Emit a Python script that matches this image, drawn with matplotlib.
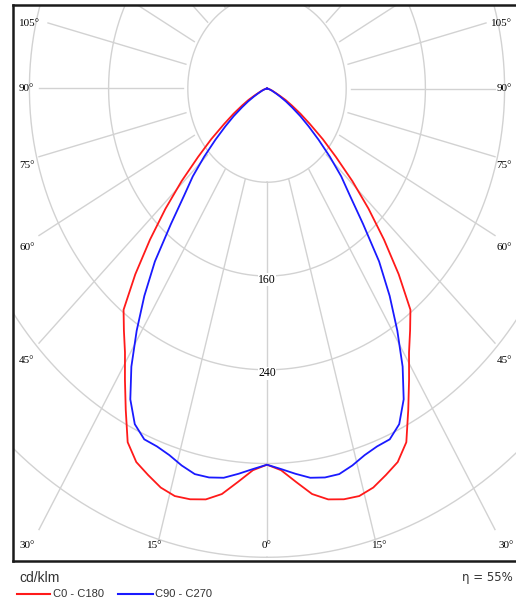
import numpy as np
import matplotlib.pyplot as plt

# ---------------- data (cd/klm) ----------------
angles = [0, 2.5, 5, 7.5, 10, 12.5, 15, 17.5, 20, 22.5, 25, 27.5, 30, 32.5, 35, 37.5,
          40, 42.5, 45, 47.5, 50, 52.5, 55, 57.5, 60, 62.5, 65, 70, 75, 80, 85, 90]
c0_c180 = [321, 326, 337, 349, 356, 359, 360, 357, 351, 345, 333, 309, 287, 267, 252, 238,
           207, 175, 145, 117, 91, 71, 53, 40, 29, 21, 13, 6, 3, 1, 0, 0]
c90_c270 = [321, 325, 330, 335, 337, 337, 333, 328, 325, 324, 316, 299, 274, 245, 216, 186,
            151, 124, 106, 86, 68, 53, 41, 30, 22, 15, 10, 5, 2, 1, 0, 0]
ring_values = [80, 160, 240, 320, 400, 480]
ring_labels = [160, 240]
spoke_step = 15
labelled_angles = [0, 15, 30, 45, 60, 75, 90, 105]
series_names = ["C0 - C180", "C90 - C270"]
series_colors = ["#ff1a1a", "#1a1aff"]
unit_label = "cd/klm"
eta_label = "η = 55%"

# ---------------- layout ----------------
W, H = 516, 603
fig = plt.figure(figsize=(W / 100, H / 100), dpi=100)
L, T, B, R = 13, 5, 561, 517
ax = fig.add_axes([L / W, 1 - B / H, (R - L) / W, (B - T) / H])
cx, cy = 267, 88.5          # pixel position of pole
sx, sy = 0.99, 1.172        # px per cd horizontally / vertically
ax.set_xlim((L - cx) / sx, (R - cx) / sx)
ax.set_ylim(-(B - cy) / sy, (cy - T) / sy)
ax.set_xticks([]); ax.set_yticks([])
for s in ["left", "top", "bottom"]:
    ax.spines[s].set_linewidth(1.8)
    ax.spines[s].set_color("#1a1a1a")
ax.spines["right"].set_visible(False)

grid_c = "#d2d2d2"
t = np.linspace(0, 2 * np.pi, 721)
for rv in ring_values:
    ax.plot(rv * np.sin(t), -rv * np.cos(t), color=grid_c, lw=1.0, zorder=1)

# spokes
f_sp = 1.06   # horizontal factor for spokes
lab_left, lab_right, lab_bottom = 39, 495, 540


def ray_end(s, c, xl, xr, yb):
    cands = []
    if abs(s) > 1e-9:
        xb = xr if s > 0 else xl
        cands.append((xb - cx) / (s * sx * f_sp))
    if c > 1e-9:
        cands.append((yb - cy) / (c * sy))
    cands = [v for v in cands if v > 0]
    return min(cands)


for a in range(0, 360, spoke_step):
    th = np.deg2rad(a)
    s, c = np.sin(th), np.cos(th)
    a_abs = min(a, 360 - a)
    rend = 2000
    if a_abs in labelled_angles:
        inset = 9 if a_abs > 90 else 0
        rend = ray_end(s, c, lab_left + inset, lab_right - inset, lab_bottom)
    rr = np.array([80, rend])
    ax.plot(rr * s * f_sp, -rr * c, color=grid_c, lw=1.0, zorder=1)

# ring labels
for rv in ring_labels:
    ax.text(0, -rv - 3, str(rv), ha="center", va="center", fontsize=8.5,
            family="Liberation Serif", zorder=3,
            bbox=dict(boxstyle="square,pad=0.05", fc="white", ec="none"))

# curves
th_full = np.deg2rad(np.concatenate([-np.array(angles[::-1]), np.array(angles)]))
for vals, col in zip([c0_c180, c90_c270], series_colors):
    r = np.concatenate([np.array(vals[::-1]), np.array(vals)])
    ax.plot(r * np.sin(th_full), -r * np.cos(th_full), color=col, lw=1.3, zorder=4)


# angle labels
def px_to_fig(x, y):
    return x / W, 1 - y / H


lab_fs = 8
for a in labelled_angles:
    th = np.deg2rad(a)
    s, c = np.sin(th), np.cos(th)
    if a >= 45:
        rr = (28 - cx) / (-s * sx * f_sp)
        ypx = cy + rr * c * sy + (0 if a == 90 else (7 if a > 90 else 5))
        fig.text(*px_to_fig(19, ypx), f"{a}°", ha="left", va="center",
                 fontsize=lab_fs, family="Liberation Serif")
        fig.text(*px_to_fig(512, ypx), f"{a}°", ha="right", va="center",
                 fontsize=lab_fs, family="Liberation Serif")
    else:
        rr = (546 - cy) / (c * sy)
        xoff = rr * s * sx * f_sp
        xs = [cx] if a == 0 else [cx - xoff - 3, cx + xoff + 3]
        for xp in xs:
            fig.text(*px_to_fig(xp, 546), f"{a}°", ha="center", va="center",
                     fontsize=lab_fs, family="Liberation Serif")

# bottom texts
fig.text(*px_to_fig(19, 578), unit_label, ha="left", va="center", fontsize=10,
         family="Liberation Sans", color="#333333")
fig.text(*px_to_fig(513, 578), eta_label, ha="right", va="center", fontsize=8.5,
         family="DejaVu Sans", color="#333333")
# legend
leg_x = [(17, 50, 53), (118, 153, 155)]
for (x0, x1, xt), name, col in zip(leg_x, series_names, series_colors):
    fig.add_artist(plt.Line2D([x0 / W, x1 / W], [1 - 594 / H, 1 - 594 / H], color=col,
                              lw=1.5, transform=fig.transFigure))
    fig.text(*px_to_fig(xt, 594), name, ha="left", va="center", fontsize=8,
             family="Liberation Sans", color="#333333")

fig.savefig("out.png", dpi=100, facecolor="white")
